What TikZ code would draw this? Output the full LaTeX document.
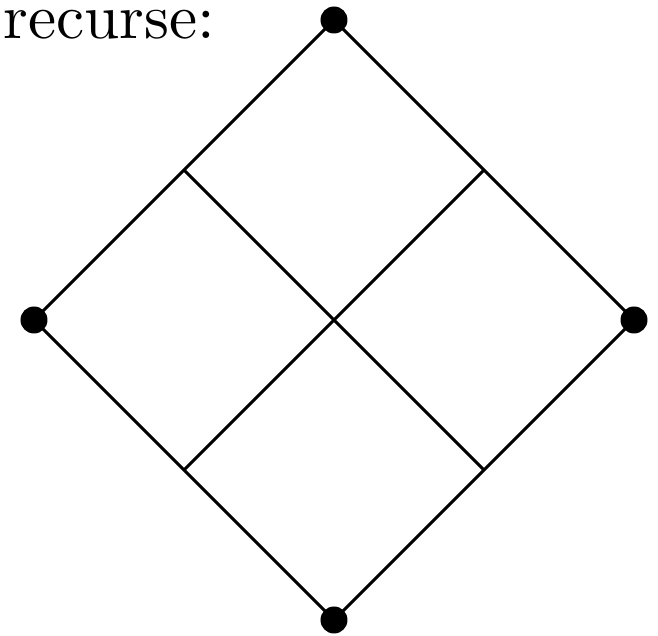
\documentclass[tikz,border=0pt]{standalone}
\usepackage{tikz}
\usetikzlibrary{positioning}

\tikzset{
  dot/.style={circle, fill=black, inner sep=0pt, minimum size=0.27cm},
  edge/.style={line width=0.85pt}
}

\begin{document}
\begin{tikzpicture}
\useasboundingbox (-3.34, -3.16) rectangle (3.24, 3.20);

% Label
\node[anchor=base west, inner sep=0pt, scale=1.8] (lbl) at (-3.32, 2.81) {recurse:};

% Corners
\node[dot] (top) at (0, 3) {};
\node[dot] (left) at (-3, 0) {};
\node[dot] (right) at (3, 0) {};
\node[dot] (bot) at (0, -3) {};

% Midpoints and centre
\coordinate (tl) at (-1.5, 1.5);
\coordinate (tr) at (1.5, 1.5);
\coordinate (bl) at (-1.5, -1.5);
\coordinate (br) at (1.5, -1.5);
\coordinate (c) at (0, 0);

% Outer square
\draw[edge] (top.center) -- (right.center) -- (bot.center) -- (left.center) -- cycle;

% Inner cross
\draw[edge] (tl) -- (br);
\draw[edge] (tr) -- (bl);
\end{tikzpicture}
\end{document}
